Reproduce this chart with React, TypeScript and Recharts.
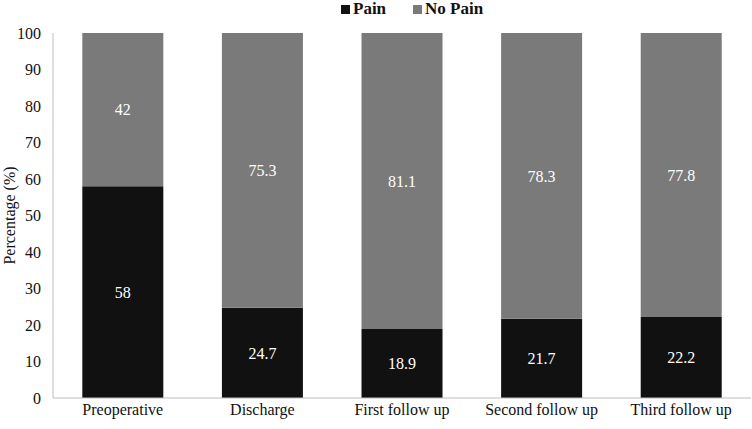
import React from 'react';
import { BarChart, Bar, XAxis, YAxis, Legend, LabelList, Label } from 'recharts';

const categories = ['Preoperative', 'Discharge', 'First follow up', 'Second follow up', 'Third follow up'];
const pain = [58, 24.7, 18.9, 21.7, 22.2];
const noPain = [42, 75.3, 81.1, 78.3, 77.8];
const yTicks = [0, 10, 20, 30, 40, 50, 60, 70, 80, 90, 100];

const data = categories.map((c, i) => ({ name: c, pain: pain[i], noPain: noPain[i] }));

const FONT = '"Liberation Serif", "Times New Roman", serif';
const DARK = '#111111';
const GREY = '#7a7a7a';

const LegendContent = () => (
  <div style={{ height: 18, display: 'flex', alignItems: 'center', paddingLeft: 341, fontFamily: FONT, fontWeight: 'bold', fontSize: 17, color: '#111', whiteSpace: 'nowrap', lineHeight: '18px', boxSizing: 'border-box' }}>
    <span style={{ width: 9, height: 9, background: DARK, marginRight: 3, display: 'inline-block' }} />
    <span style={{ marginRight: 27 }}>Pain</span>
    <span style={{ width: 9, height: 9, background: GREY, marginRight: 3, display: 'inline-block' }} />
    <span>No Pain</span>
  </div>
);

export default function App() {
  return (
    <div style={{ position: 'absolute', left: 0, top: 0 }}>
      <BarChart width={752} height={429} data={data} margin={{ top: 15, right: 1, bottom: 0, left: 0 }} barCategoryGap="21%">
        <Legend verticalAlign="top" content={<LegendContent />} wrapperStyle={{ position: 'absolute', top: 0, left: 0, width: 752, height: 18 }} />
        <XAxis dataKey="name" height={31} tickLine={false} axisLine={{ stroke: '#bdbdbd' }} tickMargin={0}
          tick={{ fontFamily: FONT, fontSize: 16, fill: '#111' }} interval={0} />
        <YAxis width={53} domain={[0, 100]} ticks={yTicks} tickLine={false} axisLine={{ stroke: '#bdbdbd' }} tickMargin={6}
          tick={{ fontFamily: FONT, fontSize: 16, fill: '#111' }}>
          <Label value="Percentage (%)" angle={-90} position="insideLeft" offset={9} style={{ textAnchor: 'middle', fontFamily: FONT, fontSize: 16, fill: '#111' }} />
        </YAxis>
        <Bar dataKey="pain" stackId="a" fill={DARK} isAnimationActive={false}>
          <LabelList dataKey="pain" position="center" fill="#fff" style={{ fontFamily: FONT, fontSize: 16 }} />
        </Bar>
        <Bar dataKey="noPain" stackId="a" fill={GREY} isAnimationActive={false}>
          <LabelList dataKey="noPain" position="center" fill="#fff" style={{ fontFamily: FONT, fontSize: 16 }} />
        </Bar>
      </BarChart>
    </div>
  );
}
